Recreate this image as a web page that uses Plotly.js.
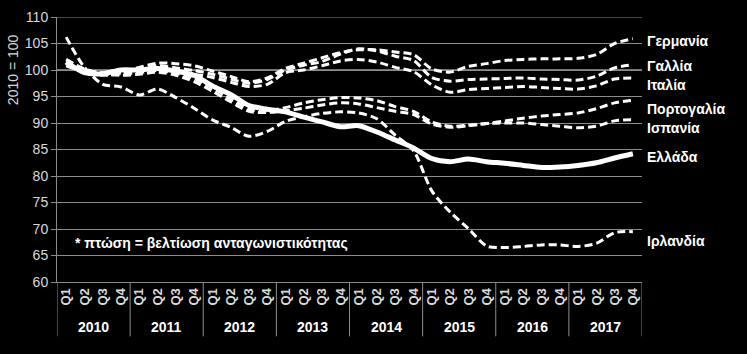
<!DOCTYPE html>
<html>
<head>
<meta charset="utf-8">
<script src="https://cdn.plot.ly/plotly-3.0.1.min.js"></script>
<style>html,body{margin:0;padding:0;background:#000;}#chart{width:747px;height:354px;}</style>
</head>
<body>
<div id="chart"></div>
<script>
var years = ["2010","2011","2012","2013","2014","2015","2016","2017"];
var quarters = ["Q1","Q2","Q3","Q4"];

var germany  = [101.2, 99.9, 99.3, 99.6, 100.5, 101.3, 101.2, 100.8, 99.8, 98.8, 97.8, 98.5, 100.3, 101.3, 102.3, 103.3, 103.8, 103.8, 103.4, 102.9, 100.2, 99.6, 100.7, 101.2, 101.8, 102.0, 102.1, 102.1, 102.2, 102.9, 105.0, 105.9];
var france   = [100.8, 99.6, 99.2, 99.5, 100.2, 100.8, 100.4, 99.9, 99.2, 98.3, 97.5, 98.2, 100.0, 100.9, 101.6, 103.0, 104.0, 103.6, 102.6, 101.8, 98.6, 97.9, 98.2, 98.3, 98.4, 98.5, 98.3, 98.2, 98.1, 98.8, 100.4, 101.0];
var italy    = [101.2, 99.6, 99.0, 99.3, 99.8, 100.2, 99.8, 99.2, 98.6, 97.7, 96.9, 97.3, 99.5, 100.0, 100.8, 101.7, 102.0, 101.5, 100.5, 99.7, 97.2, 95.8, 96.3, 96.5, 96.7, 96.9, 96.7, 96.5, 96.4, 97.0, 98.3, 98.5];
var portugal = [102.0, 100.2, 99.3, 99.0, 99.2, 99.6, 99.0, 97.8, 96.0, 94.0, 92.2, 92.0, 92.3, 92.8, 93.4, 93.8, 93.6, 92.9, 92.2, 91.6, 89.8, 89.2, 89.5, 89.9, 90.4, 90.9, 91.3, 91.6, 91.9, 92.7, 93.8, 94.3];
var spain    = [101.5, 100.0, 99.5, 99.3, 99.5, 99.9, 99.4, 98.4, 96.6, 94.6, 92.6, 92.3, 92.9, 93.8, 94.4, 94.8, 94.7, 94.2, 93.1, 92.2, 90.2, 89.4, 89.6, 89.9, 90.0, 90.0, 89.7, 89.4, 89.1, 89.4, 90.4, 90.6];
var greece   = [101.5, 99.5, 99.3, 100.0, 100.0, 100.3, 99.8, 99.0, 97.0, 95.4, 93.3, 92.6, 92.1, 91.1, 90.2, 89.3, 89.5, 88.3, 86.8, 85.3, 83.3, 82.7, 83.2, 82.7, 82.4, 82.0, 81.6, 81.7, 82.0, 82.5, 83.4, 84.2];
var ireland  = [106.2, 100.5, 97.3, 96.8, 95.3, 96.4, 94.8, 92.8, 90.6, 89.2, 87.5, 88.4, 90.3, 91.2, 91.8, 92.1, 91.9, 90.8, 87.7, 84.8, 77.2, 73.2, 70.1, 66.8, 66.5, 66.7, 67.0, 67.0, 66.7, 67.3, 69.3, 69.5];

var seriesNames = ["Γερμανία","Γαλλία","Ιταλία","Πορτογαλία","Ισπανία","Ελλάδα","Ιρλανδία"];
var labelY = [105.5, 100.8, 97.2, 92.6, 89.1, 83.6, 67.7];
var note = "* πτώση = βελτίωση ανταγωνιστικότητας";
var yTitle = "2010 = 100";

var allSeries = [germany, france, italy, portugal, spain, greece, ireland];
var FONT = "Liberation Sans, Arial, sans-serif";

var x = [], qText = [];
years.forEach(function(y, yi){ quarters.forEach(function(q, qi){ x.push(yi*4+qi); qText.push("<b>"+q+"</b>"); }); });

var traces = allSeries.map(function(vals, i){
  var solid = seriesNames[i] === "Ελλάδα";
  return {
    x: x, y: vals, type: "scatter", mode: "lines", name: seriesNames[i],
    line: {color: "#ffffff", width: solid ? 5 : 3, dash: solid ? "solid" : "8px,4px", shape: "spline", smoothing: 0.8},
    hoverinfo: "skip"
  };
});
var g = traces.splice(5,1)[0]; traces.push(g);

var grey = "#8c8c8c";
var shapes = [];
for (var k = 0; k <= years.length; k++) {
  shapes.push({type:"line", xref:"x", yref:"paper", x0:k*4-0.5, x1:k*4-0.5, y0:0, y1:-0.205, line:{color:grey, width:1}});
}
shapes.push({type:"line", xref:"paper", yref:"y", x0:0, x1:1, y0:100, y1:100, line:{color:"#e6e6e6", width:1}, layer:"below"});
shapes.push({type:"line", xref:"paper", yref:"y", x0:0, x1:1, y0:110, y1:110, line:{color:grey, width:1}, layer:"below"});

var annotations = [];
years.forEach(function(y, yi){
  annotations.push({xref:"x", yref:"paper", x:yi*4+1.5, y:-0.168, text:"<b>"+y+"</b>", showarrow:false, xanchor:"center", yanchor:"middle", font:{family:FONT, size:14, color:"#ffffff"}});
});
seriesNames.forEach(function(n, i){
  annotations.push({xref:"paper", yref:"y", x:1.005, y:labelY[i], text:"<b>"+n+"</b>", showarrow:false, xanchor:"left", yanchor:"middle", font:{family:FONT, size:14, color:"#ffffff"}});
});
annotations.push({xref:"paper", yref:"y", x:0.027, y:67.3, text:"<b>"+note+"</b>", showarrow:false, xanchor:"left", yanchor:"middle", font:{family:FONT, size:14, color:"#ffffff"}});
annotations.push({xref:"paper", yref:"paper", x:-0.075, y:0.80, text:yTitle, textangle:-90, showarrow:false, xanchor:"center", yanchor:"middle", font:{family:FONT, size:14, color:"#d9d9d9"}});

var layout = {
  width: 747, height: 354,
  margin: {l:57, r:105, t:17, b:72, pad:0},
  paper_bgcolor: "#000000", plot_bgcolor: "#000000",
  showlegend: false,
  xaxis: {range:[-0.5, 31.5], tickmode:"array", tickvals:x, ticktext:qText, tickangle:-90,
          tickfont:{family:FONT, size:13, color:"#d9d9d9"},
          showgrid:false, zeroline:false, showline:true, linecolor:grey, linewidth:1, ticks:"", ticklen:0},
  yaxis: {range:[60,110], tickmode:"linear", tick0:60, dtick:5, gridcolor:grey, gridwidth:1,
          showline:true, linecolor:grey, linewidth:1, ticks:"outside", ticklen:5, tickcolor:grey, zeroline:false,
          tickfont:{family:FONT, size:14, color:"#d9d9d9"}},
  shapes: shapes,
  annotations: annotations,
  font: {family:FONT, color:"#ffffff"}
};

Plotly.newPlot("chart", traces, layout, {staticPlot:true, displayModeBar:false});
</script>
</body>
</html>
